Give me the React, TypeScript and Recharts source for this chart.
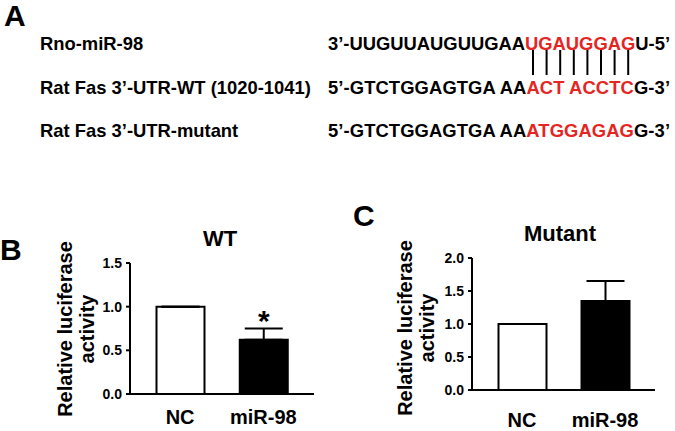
import React from "react";
import { BarChart, Bar, XAxis, YAxis, ErrorBar, Cell, LabelList } from "recharts";

// ---------- data ----------
const categories = ["NC", "miR-98"];
const wtValues = [1.0, 0.62];
const wtErrors = [0, 0.13];
const wtSignificance = ["", "*"];
const mutantValues = [1.0, 1.35];
const mutantErrors = [0, 0.3];
const wtTicks = [0, 0.5, 1.0, 1.5];
const mutantTicks = [0, 0.5, 1.0, 1.5, 2.0];
const barFills = ["#ffffff", "#000000"];

const panelTitles = { wt: "WT", mutant: "Mutant" };
const yAxisLabelLines = ["Relative luciferase", "activity"];

// panel A sequences: [black prefix, red segment, black suffix]
const seqLabels = ["Rno-miR-98", "Rat Fas 3\u2019-UTR-WT (1020-1041)", "Rat Fas 3\u2019-UTR-mutant"];
const seqParts = [
  ["3\u2019-UUGUUAUGUUGAA", "UGAUGGAG", "U-5\u2019"],
  ["5\u2019-GTCTGGAGTGA AA", "ACT ACCTC", "G-3\u2019"],
  ["5\u2019-GTCTGGAGTGA AA", "ATGGAGAG", "G-3\u2019"],
];
const pairedBases = 8;

const FONT = "'Liberation Sans', Arial, Helvetica, sans-serif";
const RED = "#e5251f";

const wtData = categories.map((c, i) => ({
  name: c,
  value: wtValues[i],
  err: [0, wtErrors[i]],
  sig: wtSignificance[i],
}));
const mutantData = categories.map((c, i) => ({
  name: c,
  value: mutantValues[i],
  err: [0, mutantErrors[i]],
}));

const tickStyle = { fontSize: 14, fontWeight: "bold", fill: "#000", fontFamily: FONT };
const xTickStyle = { fontSize: 20, fontWeight: "bold", fill: "#000", fontFamily: FONT };
const fmt = (v: number) => v.toFixed(1);

function Panel({ data, ticks, domainMax, margin, yWidth, pad, xTickMargin, showSig }: any) {
  return (
    <BarChart width={margin.w} height={231} data={data} margin={{ top: margin.top, right: margin.right, bottom: margin.bottom, left: 0 }}>
      <XAxis
        dataKey="name"
        axisLine={{ stroke: "#000", strokeWidth: 2 }}
        tickLine={false}
        tickSize={6}
        tickMargin={xTickMargin}
        tick={xTickStyle}
        height={30}
        padding={pad}
        interval={0}
      />
      <YAxis
        width={yWidth}
        domain={[0, domainMax]}
        ticks={ticks}
        interval={0}
        tickFormatter={fmt}
        axisLine={{ stroke: "#000", strokeWidth: 2 }}
        tickLine={{ stroke: "#000", strokeWidth: 2 }}
        tickSize={4}
        tickMargin={4}
        tick={tickStyle}
      />
      <Bar dataKey="value" barSize={48} stroke="#000" strokeWidth={2} isAnimationActive={false}>
        {data.map((d: any, i: number) => (
          <Cell key={d.name} fill={barFills[i]} />
        ))}
        <ErrorBar dataKey="err" width={19} stroke="#000" strokeWidth={2} direction="y" isAnimationActive={false} />
        {showSig ? (
          <LabelList dataKey="sig" position="top" offset={9} style={{ fontSize: 30, fontWeight: "bold", fill: "#000", fontFamily: FONT }} />
        ) : null}
      </Bar>
    </BarChart>
  );
}

function YLabel({ cx, cy }: { cx: number; cy: number }) {
  return (
    <g>
      {yAxisLabelLines.map((t, i) => (
        <text
          key={t}
          transform={`translate(${cx + i * 22},${cy}) rotate(-90)`}
          textAnchor="middle"
          fontSize={20}
          fontWeight="bold"
          fontFamily={FONT}
          fill="#000"
        >
          {t}
        </text>
      ))}
    </g>
  );
}

export default function App() {
  const rowBaselines = [49.5, 93.5, 136.5];
  const pairStart = 533;
  const pairStep = 13.6;
  return (
    <div style={{ position: "absolute", left: 0, top: 0, width: 675, height: 431, background: "#fff", overflow: "hidden" }}>
      <div style={{ position: "absolute", left: 0, top: 200 }}>
        <Panel
          data={wtData}
          ticks={wtTicks}
          domainMax={1.5}
          margin={{ w: 340, top: 63, right: 26, bottom: 7 }}
          yWidth={130}
          pad={{ left: 8.5, right: 9 }}
          xTickMargin={10}
          showSig
        />
      </div>
      <div style={{ position: "absolute", left: 340, top: 200 }}>
        <Panel
          data={mutantData}
          ticks={mutantTicks}
          domainMax={2.0}
          margin={{ w: 335, top: 58, right: 20, bottom: 11 }}
          yWidth={132}
          pad={{ left: 8.5, right: 8.5 }}
          xTickMargin={17}
          showSig={false}
        />
      </div>
      <svg width={675} height={431} style={{ position: "absolute", left: 0, top: 0, pointerEvents: "none" }}>
        <g fontFamily={FONT} fontWeight="bold" fill="#000">
          <text x={4} y={26} fontSize={30}>A</text>
          <text x={0} y={260} fontSize={30}>B</text>
          <text x={353} y={225.5} fontSize={30}>C</text>
          <text x={220} y={246} fontSize={22} textAnchor="middle">{panelTitles.wt}</text>
          <text x={560} y={241} fontSize={22} textAnchor="middle">{panelTitles.mutant}</text>
          {seqLabels.map((l, i) => (
            <text key={l} x={40} y={rowBaselines[i]} fontSize={18.4}>{l}</text>
          ))}
          {seqParts.map((p, i) => (
            <text key={i} x={328} y={rowBaselines[i]} fontSize={18.4} textLength={342} lengthAdjust="spacing">
              <tspan>{p[0]}</tspan>
              <tspan fill={RED}>{p[1]}</tspan>
              <tspan>{p[2]}</tspan>
            </text>
          ))}
        </g>
        <g stroke="#000" strokeWidth={2}>
          {Array.from({ length: pairedBases }).map((_, i) => (
            <line key={i} x1={pairStart + i * pairStep} x2={pairStart + i * pairStep} y1={50} y2={75} />
          ))}
        </g>
        <YLabel cx={72} cy={329} />
        <YLabel cx={412} cy={328} />
      </svg>
    </div>
  );
}
